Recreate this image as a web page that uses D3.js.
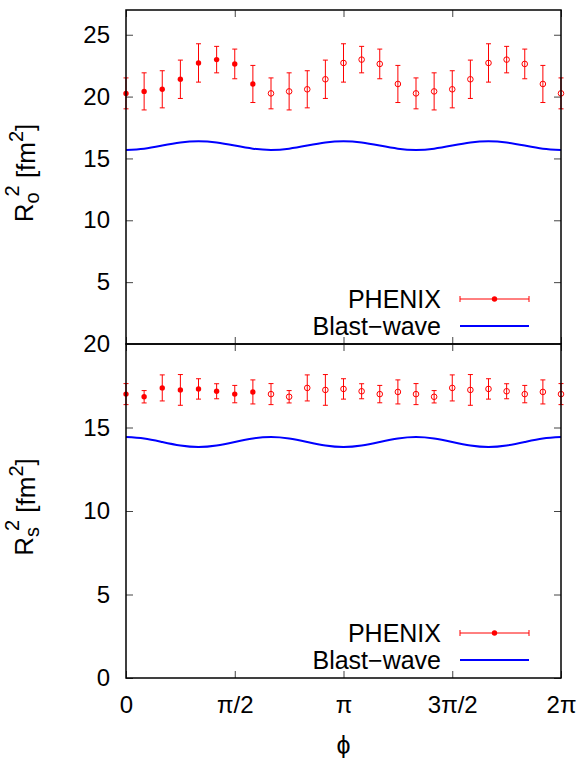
<!DOCTYPE html>
<head>
  <meta charset="utf-8">
</head>
<style>
body { margin: 0; background: #fff; }
text { font-family: "Liberation Sans", Arial, sans-serif; fill: #000; }
.tick line { stroke: #444; stroke-width: 1; }
</style>
<body>
<script src="https://d3js.org/d3.v7.min.js"></script>
<script>
var width = 585, height = 758;

// phi in steps of pi/12
var phiSteps = [0,1,2,3,4,5,6,7,8,9,10,11,12,13,14,15,16,17,18,19,20,21,22,23,24];
// the first 8 points are measured, the rest are drawn open
var nFilled = 8;

var roVal = [20.26,20.42,20.59,21.40,22.72,22.99,22.64,21.02,
             20.26,20.42,20.59,21.40,22.72,22.99,22.64,21.02,
             20.26,20.42,20.59,21.40,22.72,22.99,22.64,21.02,20.26];
var roErr = [1.25,1.50,1.50,1.55,1.55,1.07,1.20,1.50,
             1.25,1.50,1.50,1.55,1.55,1.07,1.20,1.50,
             1.25,1.50,1.50,1.55,1.55,1.07,1.20,1.50,1.25];
var roBW  = [15.69,15.79,16.04,16.29,16.39,16.29,16.04,15.79,
             15.69,15.79,16.04,16.29,16.39,16.29,16.04,15.79,
             15.69,15.79,16.04,16.29,16.39,16.29,16.04,15.79,15.69];

var rsVal = [17.00,16.84,17.37,17.25,17.31,17.17,17.00,17.13,
             17.00,16.84,17.37,17.25,17.31,17.17,17.00,17.13,
             17.00,16.84,17.37,17.25,17.31,17.17,17.00,17.13,17.00];
var rsErr = [0.63,0.37,0.78,0.92,0.61,0.45,0.52,0.72,
             0.63,0.37,0.78,0.92,0.61,0.45,0.52,0.72,
             0.63,0.37,0.78,0.92,0.61,0.45,0.52,0.72,0.63];
var rsBW  = [14.43,14.34,14.13,13.92,13.83,13.92,14.13,14.34,
             14.43,14.34,14.13,13.92,13.83,13.92,14.13,14.34,
             14.43,14.34,14.13,13.92,13.83,13.92,14.13,14.34,14.43];

var xTicks = [0, Math.PI/2, Math.PI, 3*Math.PI/2, 2*Math.PI];
var xTickLabels = ["0", "\u03c0/2", "\u03c0", "3\u03c0/2", "2\u03c0"];
var roTicks = [5,10,15,20,25];
var rsTicks = [0,5,10,15,20];
var legendNames = ["PHENIX", "Blast\u2212wave"];

var svg = d3.select("body").append("svg")
  .attr("width", width)
  .attr("height", height);

var x = d3.scaleLinear().domain([0, 2*Math.PI]).range([126, 561]);

function drawPanel(y, vals, errs, bw, ticks, showX, sub) {
  var g = svg.append("g");
  var y0 = y.range()[0], y1 = y.range()[1];

  // ticks (inward, mirrored)
  g.append("g").attr("transform", "translate(126,0)")
    .call(d3.axisLeft(y).tickValues(ticks).tickSize(-7).tickPadding(16))
    .call(function(a) { a.select(".domain").remove(); })
    .selectAll("text").style("font-size", "24px");
  g.append("g").attr("transform", "translate(561,0)")
    .call(d3.axisRight(y).tickValues(ticks).tickSize(-7).tickFormat(""))
    .call(function(a) { a.select(".domain").remove(); });
  var xb = g.append("g").attr("transform", "translate(0," + y0 + ")")
    .call(d3.axisBottom(x).tickValues(xTicks).tickSize(-7).tickPadding(18)
      .tickFormat(function(d, i) { return showX ? xTickLabels[i] : ""; }))
    .call(function(a) { a.select(".domain").remove(); });
  xb.selectAll("text").style("font-size", "24px");
  g.append("g").attr("transform", "translate(0," + y1 + ")")
    .call(d3.axisTop(x).tickValues(xTicks).tickSize(-7).tickFormat(""))
    .call(function(a) { a.select(".domain").remove(); });
  g.selectAll("g.tick text").attr("fill", "#000");

  // blast-wave curve
  var line = d3.line()
    .x(function(d, i) { return x(phiSteps[i] * Math.PI / 12); })
    .y(function(d) { return y(d); })
    .curve(d3.curveNatural);
  g.append("path")
    .datum(bw)
    .attr("d", line)
    .attr("fill", "none")
    .attr("stroke", "#0000ff")
    .attr("stroke-width", 2);

  // error bars
  var pts = g.selectAll(".pt").data(vals).enter().append("g").attr("class", "pt")
    .attr("transform", function(d, i) { return "translate(" + x(phiSteps[i] * Math.PI / 12) + ",0)"; });
  pts.append("line")
    .attr("y1", function(d, i) { return y(d - errs[i]); })
    .attr("y2", function(d, i) { return y(d + errs[i]); })
    .attr("stroke", "#ff0000").attr("stroke-width", 1);
  pts.append("line")
    .attr("x1", -2.5).attr("x2", 2.5)
    .attr("y1", function(d, i) { return y(d + errs[i]); })
    .attr("y2", function(d, i) { return y(d + errs[i]); })
    .attr("stroke", "#ff0000").attr("stroke-width", 1);
  pts.append("line")
    .attr("x1", -2.5).attr("x2", 2.5)
    .attr("y1", function(d, i) { return y(d - errs[i]); })
    .attr("y2", function(d, i) { return y(d - errs[i]); })
    .attr("stroke", "#ff0000").attr("stroke-width", 1);
  pts.append("circle")
    .attr("cy", function(d) { return y(d); })
    .attr("r", function(d, i) { return i < nFilled ? 2.7 : 2.8; })
    .attr("fill", function(d, i) { return i < nFilled ? "#ff0000" : "none"; })
    .attr("stroke", "#ff0000")
    .attr("stroke-width", function(d, i) { return i < nFilled ? 0 : 1; });

  // frame
  g.append("rect")
    .attr("x", 126).attr("y", y1)
    .attr("width", 561 - 126).attr("height", y0 - y1)
    .attr("fill", "none").attr("stroke", "#000").attr("stroke-width", 1.5);

  // legend
  var ly = [y0 - 45, y0 - 18];
  g.selectAll(".legtext").data(legendNames).enter().append("text")
    .attr("x", 441).attr("y", function(d, i) { return ly[i]; })
    .attr("dy", "0.36em")
    .attr("text-anchor", "end")
    .style("font-size", "25px")
    .text(function(d) { return d; });
  g.append("line").attr("x1", 460).attr("x2", 529).attr("y1", ly[0]).attr("y2", ly[0])
    .attr("stroke", "#ff0000").attr("stroke-width", 1);
  g.append("line").attr("x1", 460).attr("x2", 460).attr("y1", ly[0] - 3).attr("y2", ly[0] + 3)
    .attr("stroke", "#ff0000").attr("stroke-width", 1);
  g.append("line").attr("x1", 529).attr("x2", 529).attr("y1", ly[0] - 3).attr("y2", ly[0] + 3)
    .attr("stroke", "#ff0000").attr("stroke-width", 1);
  g.append("circle").attr("cx", 494.5).attr("cy", ly[0]).attr("r", 2.7).attr("fill", "#ff0000");
  g.append("line").attr("x1", 460).attr("x2", 529).attr("y1", ly[1]).attr("y2", ly[1])
    .attr("stroke", "#0000ff").attr("stroke-width", 2);

  // y label: R_sub^2 [fm^2]
  var lab = svg.append("text")
    .attr("transform", "translate(33," + ((y0 + y1) / 2 - 4) + ") rotate(-90)")
    .attr("text-anchor", "middle")
    .style("font-size", "26px");
  lab.append("tspan").text("R");
  lab.append("tspan").attr("dy", "0.3em").style("font-size", "20px").text(sub);
  lab.append("tspan").attr("dx", "-4").attr("dy", "-1.0em").style("font-size", "20px").text("2");
  lab.append("tspan").attr("dy", "0.6em").text(" [fm");
  lab.append("tspan").attr("dy", "-0.6em").style("font-size", "20px").text("2");
  lab.append("tspan").attr("dy", "0.45em").text("]");
}

var yTop = d3.scaleLinear().domain([0, 27]).range([344, 10]);
var yBot = d3.scaleLinear().domain([0, 20]).range([678, 344]);

drawPanel(yTop, roVal, roErr, roBW, roTicks, false, "o");
drawPanel(yBot, rsVal, rsErr, rsBW, rsTicks, true, "s");

svg.append("text")
  .attr("x", x(Math.PI)).attr("y", 745)
  .attr("dy", "0.36em")
  .attr("text-anchor", "middle")
  .style("font-size", "25px")
  .text("\u03d5");
</script>
</body>
